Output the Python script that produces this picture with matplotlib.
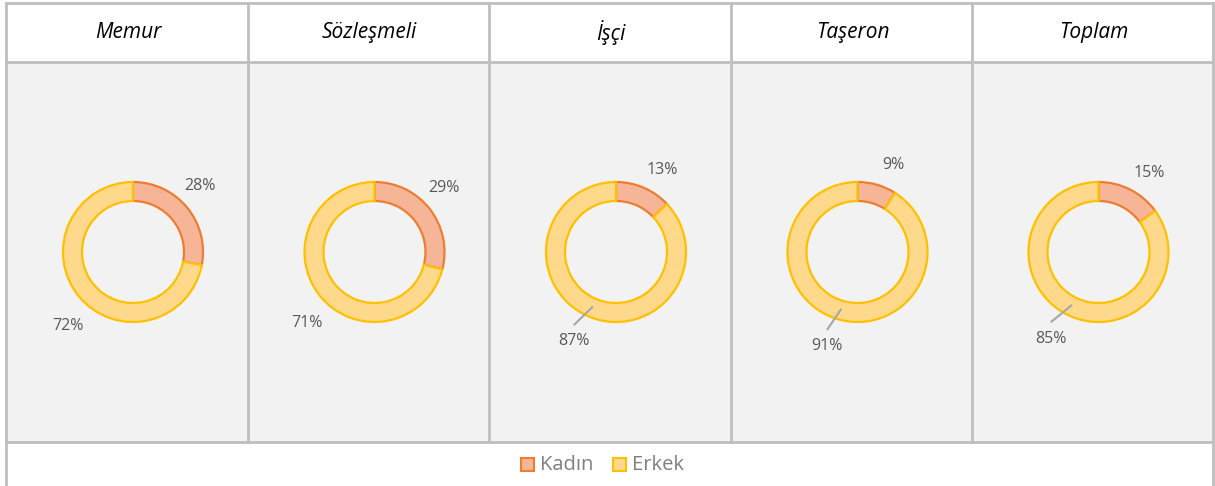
import numpy as np
import matplotlib
matplotlib.use('Agg')
import matplotlib.pyplot as plt

# data
categories = ['Memur', 'Sözleşmeli', 'İşçi', 'Taşeron', 'Toplam']
kadin = [28, 29, 13, 9, 15]
erkek = [72, 71, 87, 91, 85]
series_names = ['Kadın', 'Erkek']
leader = [False, False, True, True, True]  # Erkek label pulled out with a line

fill_cols = ['#F7B597', '#FFD98B']
edge_cols = ['#ED7D31', '#FFC000']
grid_col = '#BFBFBF'
txt_col = '#595959'

W, H = 1215, 486
fig = plt.figure(figsize=(W / 100, H / 100), dpi=100, facecolor='white')
ax = fig.add_axes([0, 0, 1, 1])

def Y(py):
    return H - py

# table layout (pixels)
xs = [6, 248, 489, 731, 972, 1213]
top, head_bot, chart_bot = 3, 62, 442
R = 70
width = 19

for i, cat in enumerate(categories):
    x0, x1 = xs[i], xs[i + 1]
    ax.fill_between([x0, x1], Y(chart_bot), Y(head_bot), color='#F2F2F2', zorder=0, lw=0)
    ax.text((x0 + x1) / 2 + 1, Y(33), cat, ha='center', va='center', fontsize=15,
            style='italic', family='Open Sans', color='black')
    cx, cy = (x0 + x1) / 2 + 6, Y(252)
    vals = [kadin[i], erkek[i]]
    wedges, _ = ax.pie(vals, colors=fill_cols, startangle=90, counterclock=False,
                       center=(cx, cy), radius=R,
                       wedgeprops=dict(width=width, linewidth=1.6))
    for w, ec in zip(wedges, edge_cols):
        w.set_edgecolor(ec)
    # labels: Excel nudges them a little off the mid angle
    ang = 90.0
    for j, v in enumerate(vals):
        mid = ang - v * 3.6 / 2
        ang -= v * 3.6
        if j == 0:
            d = 94
            a = mid + (5 if v > 20 else -6)
        elif leader[i]:
            d = 99
            a = mid - 2
        else:
            d = 98
            a = mid + 9
        lx, ly = cx + d * np.cos(np.deg2rad(a)), cy + d * np.sin(np.deg2rad(a))
        if j == 1 and leader[i]:
            m = np.deg2rad(mid)
            px, py = cx + 0.86 * R * np.cos(m), cy + 0.86 * R * np.sin(m)
            ax.plot([px, lx + 1], [py, ly + 17], color='#A6A6A6', lw=1.5, zorder=5)
        ax.text(lx, ly, f'{v}%', ha='center', va='center',
                fontsize=11.5, family='Open Sans', color=txt_col)

# grid lines
for k, x in enumerate(xs):
    bottom = 0 if k in (0, len(xs) - 1) else Y(chart_bot)
    ax.plot([x, x], [Y(top), bottom], color=grid_col, lw=2, zorder=6)
for y in [top, head_bot, chart_bot]:
    ax.plot([xs[0], xs[-1]], [Y(y), Y(y)], color=grid_col, lw=2, zorder=6)

# legend
lx = 521
for name, fc, ec in zip(series_names, fill_cols, edge_cols):
    ax.add_patch(plt.Rectangle((lx, Y(471)), 13, 13, facecolor=fc, edgecolor=ec, lw=1.5))
    ax.text(lx + 19, Y(465), name, ha='left', va='center', fontsize=14.5,
            family='Open Sans', color='#7F7F7F')
    lx += 92

ax.set_xlim(0, W)
ax.set_ylim(0, H)
ax.set_aspect('auto')
ax.axis('off')
fig.savefig('out.png', dpi=100, facecolor='white')
